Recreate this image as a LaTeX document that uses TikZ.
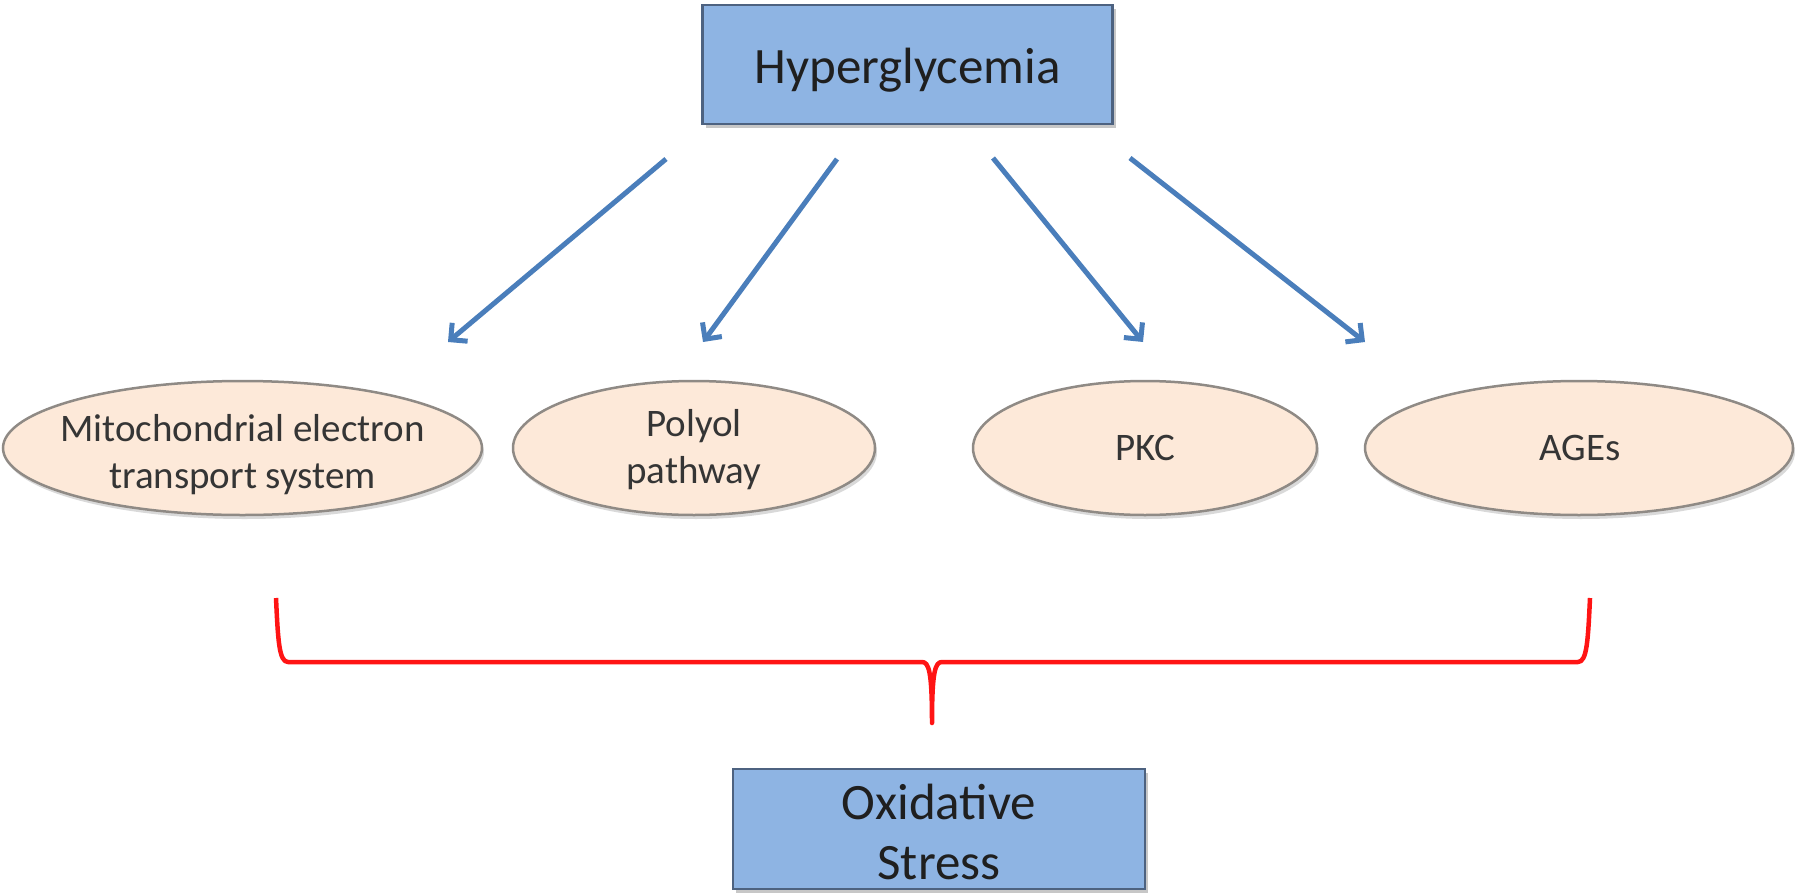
\documentclass[tikz,border=0pt]{standalone}
\usepackage{fontspec}
\setmainfont{Carlito}
\usetikzlibrary{arrows.meta,shapes.geometric,shadows}
\definecolor{boxfill}{HTML}{8EB4E3}
\definecolor{boxdraw}{HTML}{4D6280}
\definecolor{ellfill}{HTML}{FDE9D9}
\definecolor{elldraw}{HTML}{8F8A85}
\definecolor{arrowblue}{HTML}{4A7EBB}
\definecolor{bracered}{HTML}{FF1414}
\definecolor{txt}{HTML}{1F1F1F}
\tikzset{
  mainbox/.style={draw=boxdraw, line width=2.5pt, fill=boxfill, rectangle,
    inner sep=0pt, drop shadow={shadow xshift=3pt, shadow yshift=-4pt, fill=black, opacity=0.22}},
  boxtext/.style={text=txt, align=center, inner sep=0pt, font=\fontsize{51}{60}\selectfont},
  pathell/.style={draw=elldraw, line width=2.5pt, fill=ellfill, ellipse, inner sep=0pt,
    drop shadow={shadow xshift=2pt, shadow yshift=-4pt, fill=black, opacity=0.15}},
  elltext/.style={text=txt!90, align=center, inner sep=0pt, font=\fontsize{39}{47}\selectfont},
  bluearrow/.style={draw=arrowblue, line width=5pt, -{Straight Barb[length=12pt,width=24pt]}},
  redbrace/.style={draw=bracered, line width=4.5pt, line join=round}
}
\begin{document}
\begin{tikzpicture}[x=1pt,y=-1pt]
\path[use as bounding box] (0,0) rectangle (1800,894);
% top box
\node[mainbox, minimum width=410pt, minimum height=119pt] (hyper) at (907.5,64.5) {};
\node[boxtext] (hypert) at (907.5,70) {Hyperglycemia};
% ellipses
\node[pathell, minimum width=479pt, minimum height=134pt] (e1) at (242.5,448) {};
\node[elltext] (e1t) at (242.5,455) {Mitochondrial electron\\transport system};
\node[pathell, minimum width=362pt, minimum height=134pt] (e2) at (694,448) {};
\node[elltext] (e2t) at (694,450) {Polyol\\pathway};
\node[pathell, minimum width=344pt, minimum height=134pt] (e3) at (1145,448) {};
\node[elltext] (e3t) at (1145,448) {PKC};
\node[pathell, minimum width=428pt, minimum height=134pt] (e4) at (1579,448) {};
\node[elltext] (e4t) at (1580,448) {AGEs};
% bottom box
\node[mainbox, minimum width=412pt, minimum height=120pt] (ox) at (939,829) {};
\node[boxtext] (oxt) at (939,832) {Oxidative\\Stress};
% arrows
\coordinate (a1s) at (666,159); \coordinate (a1e) at (448,342);
\coordinate (a2s) at (837,159); \coordinate (a2e) at (703,342);
\coordinate (a3s) at (993,158); \coordinate (a3e) at (1143,342);
\coordinate (a4s) at (1130,158); \coordinate (a4e) at (1365,342);
\draw[bluearrow] (a1s) -- (a1e);
\draw[bluearrow] (a2s) -- (a2e);
\draw[bluearrow] (a3s) -- (a3e);
\draw[bluearrow] (a4s) -- (a4e);
% brace
\coordinate (bl) at (276,598);
\coordinate (br) at (1590,598);
\coordinate (bt) at (932,723);
\draw[redbrace] (bl) .. controls (278,640) and (279,662) .. (288,662) -- (922,662)
  .. controls (929,662) and (932,672) .. (bt)
  .. controls (932,672) and (935,662) .. (942,662) -- (1578,662)
  .. controls (1587,662) and (1588,640) .. (br);
\end{tikzpicture}
\end{document}
